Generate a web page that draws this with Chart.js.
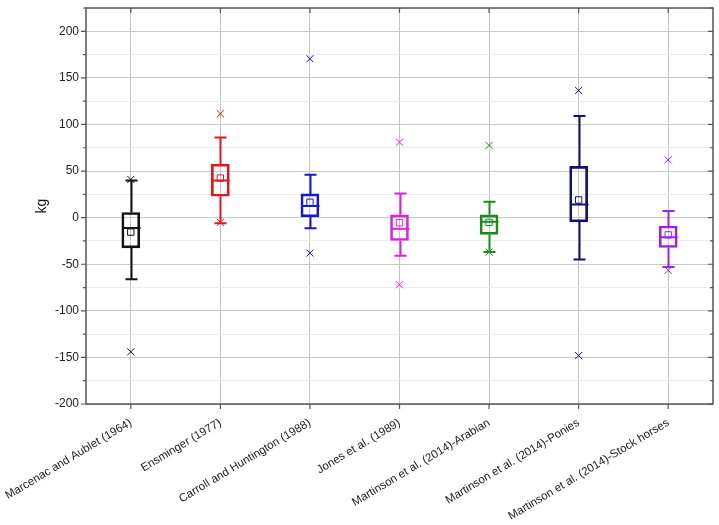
<!DOCTYPE html>
<html>
<head>
<meta charset="utf-8">
<script src="https://cdn.jsdelivr.net/npm/chart.js@4.4.0/dist/chart.umd.min.js"></script>
<style>
    html, body { margin: 0; padding: 0; background: #fff; }
    #wrap { width: 719px; height: 525px; position: relative; }
</style>
</head>
<body>
<div id="wrap"><canvas id="boxChart"></canvas></div>
<script>
// Study labels (x categories)
const categories = [
    'Marcenac and Aublet (1964)',
    'Ensminger (1977)',
    'Carroll and Huntington (1988)',
    'Jones et al. (1989)',
    'Martinson et al. (2014)-Arabian',
    'Martinson et al. (2014)-Ponies',
    'Martinson et al. (2014)-Stock horses'
];

// Box plot statistics, kg
const whiskerLow  = [-66, -6, -11.5, -41, -37, -45, -53];
const q1          = [-32.5, 23, 1, -24.5, -18, -4.5, -32];
const median      = [-11, 40, 12.5, -12, -4.5, 14, -21];
const q3          = [5.5, 57.5, 25.5, 3, 3, 55, -9];
const whiskerHigh = [40, 86, 46, 26, 17, 109, 7];
const meanVals    = [-15.5, 42.5, 16.5, -5.5, -5, 19, -18.5];
const maxVals     = [41, 111.5, 170.5, 81, 77.5, 136.5, 62];
const minVals     = [-144, -5, -38, -72, -37, -148, -56.5];

const boxColors = ['#111111', '#e01818', '#1616d8', '#e020e0', '#1a8c1a', '#10107a', '#9a22ee'];

const yTicks = { min: -200, max: 225, step: 25 };

// whiskers, caps and medians drawn with the chart scales
const whiskerPlugin = {
    id: 'whiskers',
    afterDatasetsDraw(chart) {
        const { ctx, scales: { x, y } } = chart;
        ctx.save();
        ctx.lineWidth = 2;
        categories.forEach((c, i) => {
            const cx = Math.round(x.getPixelForValue(i)) + 0.5;
            ctx.strokeStyle = boxColors[i];
            ctx.beginPath();
            ctx.moveTo(cx, y.getPixelForValue(q3[i]));
            ctx.lineTo(cx, y.getPixelForValue(whiskerHigh[i]));
            ctx.moveTo(cx, y.getPixelForValue(q1[i]));
            ctx.lineTo(cx, y.getPixelForValue(whiskerLow[i]));
            // caps
            ctx.moveTo(cx - 6, y.getPixelForValue(whiskerHigh[i]));
            ctx.lineTo(cx + 6, y.getPixelForValue(whiskerHigh[i]));
            ctx.moveTo(cx - 6, y.getPixelForValue(whiskerLow[i]));
            ctx.lineTo(cx + 6, y.getPixelForValue(whiskerLow[i]));
            // median
            ctx.moveTo(cx - 9, y.getPixelForValue(median[i]));
            ctx.lineTo(cx + 9, y.getPixelForValue(median[i]));
            ctx.stroke();
        });
        ctx.restore();
    }
};

// frame and tick marks
const framePlugin = {
    id: 'frame',
    afterDraw(chart) {
        const { ctx, chartArea: a, scales: { x, y } } = chart;
        ctx.save();
        ctx.strokeStyle = '#555';
        ctx.lineWidth = 1.5;
        ctx.strokeRect(a.left, a.top, a.right - a.left, a.bottom - a.top);
        ctx.lineWidth = 1.2;
        ctx.beginPath();
        for (let v = yTicks.min; v <= yTicks.max; v += yTicks.step) {
            const py = y.getPixelForValue(v);
            const len = v % 50 === 0 ? 5 : 3;
            ctx.moveTo(a.left - len, py);
            ctx.lineTo(a.left, py);
            ctx.moveTo(a.right, py);
            ctx.lineTo(a.right - len, py);
        }
        categories.forEach((c, i) => {
            const px = x.getPixelForValue(i);
            ctx.moveTo(px, a.bottom);
            ctx.lineTo(px, a.bottom + 5);
            ctx.moveTo(px, a.top);
            ctx.lineTo(px, a.top + 5);
        });
        ctx.stroke();
        ctx.restore();
    }
};

const ctx = document.getElementById('boxChart');

new Chart(ctx, {
    data: {
        labels: categories,
        datasets: [
            {
                type: 'bar',
                data: q1.map((v, i) => [v, q3[i]]),
                backgroundColor: 'rgba(0,0,0,0)',
                borderColor: boxColors,
                borderWidth: 2,
                borderSkipped: false,
                barThickness: 18,
                order: 2
            },
            {
                type: 'line',
                data: meanVals,
                showLine: false,
                pointStyle: 'rect',
                pointRadius: 4.5,
                pointBorderWidth: 1,
                pointBorderColor: boxColors,
                pointBackgroundColor: 'rgba(0,0,0,0)',
                order: 1
            },
            {
                type: 'line',
                data: maxVals,
                showLine: false,
                pointStyle: 'crossRot',
                pointRadius: 5,
                pointBorderWidth: 1,
                pointBorderColor: boxColors,
                order: 1
            },
            {
                type: 'line',
                data: minVals,
                showLine: false,
                pointStyle: 'crossRot',
                pointRadius: 5,
                pointBorderWidth: 1,
                pointBorderColor: boxColors,
                order: 1
            }
        ]
    },
    options: {
        responsive: true,
        maintainAspectRatio: false,
        animation: false,
        layout: { padding: { left: 0, top: 8, right: 6, bottom: 0 } },
        plugins: {
            legend: { display: false },
            tooltip: { enabled: false }
        },
        scales: {
            x: {
                offset: true,
                grid: {
                    offset: false,
                    color: '#c4c4c4',
                    drawTicks: false
                },
                border: { display: false },
                ticks: {
                    maxRotation: 31,
                    minRotation: 31,
                    autoSkip: false,
                    padding: 12,
                    color: '#222',
                    font: { family: 'Liberation Sans, Arial, sans-serif', size: 11.5 }
                },
                afterFit(scale) {
                    scale.height = 121;
                    scale.paddingLeft = 0;
                    scale.paddingRight = 0;
                }
            },
            y: {
                min: yTicks.min,
                max: yTicks.max,
                grid: {
                    color: (c) => (c.tick && c.tick.value % 50 === 0) ? '#c8c8c8' : '#ececec',
                    drawTicks: false
                },
                border: { display: false },
                ticks: {
                    stepSize: yTicks.step,
                    padding: 7,
                    color: '#222',
                    font: { family: 'Liberation Sans, Arial, sans-serif', size: 12 },
                    callback: (v) => v % 50 === 0 ? v : ''
                },
                title: {
                    display: true,
                    text: 'kg',
                    color: '#111',
                    padding: { top: 34, bottom: 0 },
                    font: { family: 'Liberation Sans, Arial, sans-serif', size: 14 }
                },
                afterFit(scale) {
                    scale.width = 86;
                    scale.paddingTop = 0;
                    scale.paddingBottom = 0;
                }
            }
        }
    },
    plugins: [whiskerPlugin, framePlugin]
});
</script>
</body>
</html>
